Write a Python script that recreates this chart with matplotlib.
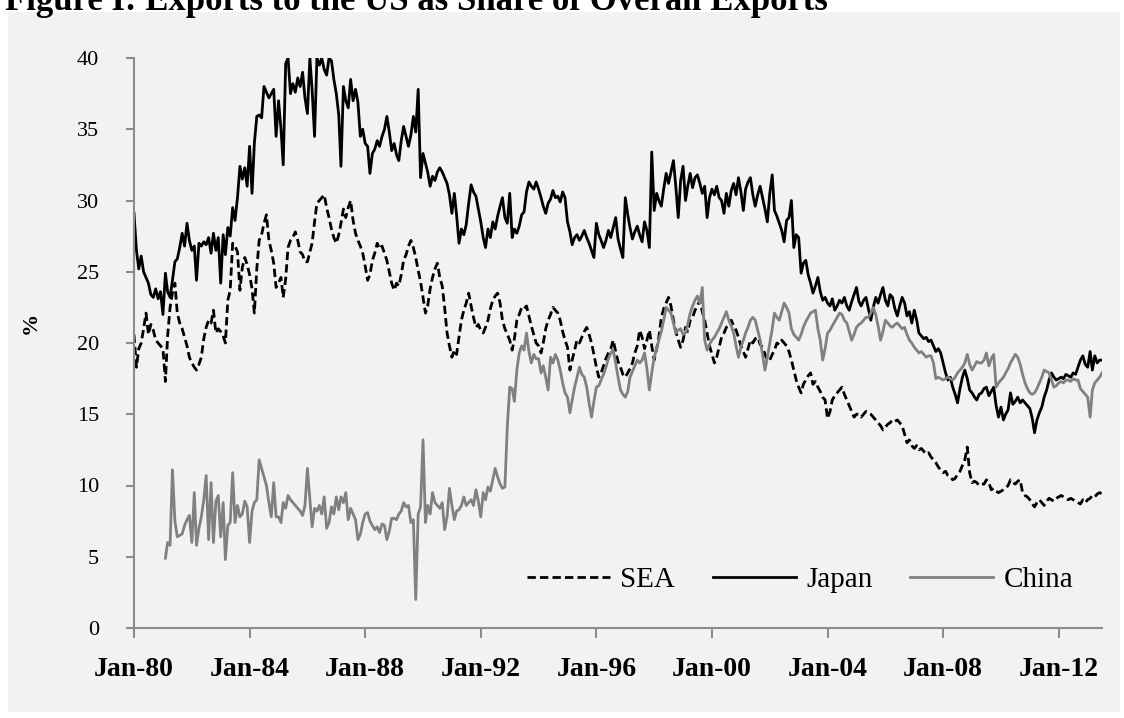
import numpy as np
import pandas as pd
import matplotlib
matplotlib.use("Agg")
import matplotlib.pyplot as plt
from matplotlib.patches import Rectangle

plt.rcParams['font.family'] = ['Liberation Serif', 'DejaVu Serif']

title = "Figure I: Exports to the US as Share of Overall Exports"

# monthly shares (%), Jan-1980 .. Jul-2013
japan = [
    29.1, 26.5, 25.2, 26.1, 25.0, 24.6, 24.2, 23.4, 23.2, 23.8, 23.1, 23.6,  # 1980
    22.0, 24.9, 23.6, 23.2, 24.4, 25.7, 25.9, 26.7, 27.7, 26.8, 28.4, 27.2,  # 1981
    26.5, 26.8, 24.4, 27.0, 26.8, 27.1, 26.9, 27.4, 26.3, 27.7, 26.5, 27.4,  # 1982
    24.2, 27.6, 26.2, 28.1, 27.5, 29.5, 28.6, 30.2, 32.4, 31.5, 32.3, 31.0,  # 1983
    33.8, 30.5, 34.0, 35.9, 36.0, 35.8, 38.0, 37.6, 37.2, 37.5, 37.8, 34.5,  # 1984
    37.0, 35.0, 32.5, 39.6, 40.0, 37.5, 38.2, 37.6, 38.6, 38.0, 39.0, 37.2,  # 1985
    36.1, 40.0, 37.8, 34.5, 40.0, 39.5, 40.0, 39.2, 38.8, 40.0, 39.8, 38.5,  # 1986
    37.5, 36.0, 32.4, 38.0, 37.0, 36.5, 38.5, 37.0, 37.8, 36.9, 34.5, 35.0,  # 1987
    34.0, 33.8, 31.9, 33.3, 33.6, 34.2, 33.8, 34.5, 35.0, 35.9, 34.8, 33.5,  # 1988
    34.0, 33.2, 32.8, 34.2, 35.2, 34.5, 33.8, 34.6, 35.9, 34.8, 37.8, 31.6,  # 1989
    33.3, 32.6, 32.0, 31.0, 31.7, 31.4, 32.0, 32.3, 32.0, 31.6, 31.2, 30.4,  # 1990
    29.1, 30.5, 29.0, 27.0, 28.0, 27.6, 28.3, 29.8, 31.1, 30.6, 30.3, 29.4,  # 1991
    28.5, 27.4, 26.7, 28.0, 27.4, 28.5, 28.0, 28.9, 29.6, 30.2, 28.8, 28.4,  # 1992
    30.5, 27.4, 28.0, 27.7, 28.2, 29.0, 29.2, 30.6, 31.3, 31.0, 30.8, 31.3,  # 1993
    30.8, 30.2, 29.6, 29.1, 29.8, 30.1, 30.7, 30.2, 30.3, 29.9, 30.6, 30.2,  # 1994
    28.5, 27.8, 26.9, 27.4, 27.6, 27.2, 27.5, 27.9, 27.4, 27.0, 26.5, 26.0,  # 1995
    28.4, 27.6, 27.2, 26.7, 27.2, 27.9, 27.4, 28.1, 28.8, 27.3, 26.6, 26.0,  # 1996
    30.2, 29.0, 28.1, 27.3, 27.8, 28.2, 27.6, 27.1, 28.5, 27.9, 26.7, 33.4,  # 1997
    29.3, 30.5, 30.0, 29.6, 30.8, 31.9, 31.2, 32.0, 32.8, 31.0, 28.8, 31.4,  # 1998
    32.4, 30.0, 31.0, 31.9, 30.9, 31.6, 31.8, 31.2, 30.5, 31.0, 28.8, 30.2,  # 1999
    30.8, 30.4, 31.0, 30.2, 30.0, 29.1, 30.5, 29.6, 30.7, 31.2, 30.4, 31.6,  # 2000
    30.6, 29.3, 30.8, 31.3, 31.6, 30.4, 29.6, 30.4, 31.0, 30.2, 29.4, 28.5,  # 2001
    30.5, 31.8, 29.3, 28.9, 28.4, 27.9, 27.1, 28.6, 28.8, 30.0, 26.7, 27.6,  # 2002
    27.4, 24.9, 25.6, 25.8, 24.8, 24.2, 23.5, 24.0, 24.6, 23.6, 23.0, 23.2,  # 2003
    22.8, 22.6, 23.1, 22.3, 22.6, 23.0, 22.8, 23.2, 22.6, 22.3, 22.9, 23.4,  # 2004
    23.9, 22.9, 22.6, 23.0, 23.2, 22.4, 21.6, 22.5, 23.2, 22.8, 23.4, 23.9,  # 2005
    23.0, 22.6, 23.4, 23.2, 22.4, 21.9, 22.6, 23.2, 22.8, 21.9, 22.2, 21.4,  # 2006
    22.3, 21.6, 20.7, 20.5, 20.3, 20.4, 20.1, 20.2, 19.8, 19.4, 19.6, 19.3,  # 2007
    18.6, 17.9, 17.4, 17.6, 16.9, 16.4, 15.8, 16.8, 17.6, 18.1, 17.5, 16.7,  # 2008
    16.5, 16.2, 16.0, 16.4, 16.5, 16.8, 16.9, 16.3, 16.6, 16.9, 15.6, 14.8,  # 2009
    15.5, 14.6, 15.0, 15.3, 16.5, 15.7, 15.9, 16.2, 15.8, 16.0, 15.8, 15.6,  # 2010
    15.4, 14.7, 13.7, 14.6, 15.1, 15.5, 16.2, 16.7, 17.4, 17.9, 17.6, 17.4,  # 2011
    17.5, 17.6, 17.5, 17.8, 17.7, 17.6, 17.9, 17.8, 18.3, 18.8, 19.1, 18.5,  # 2012
    18.3, 19.4, 18.1, 19.1, 18.6, 18.8, 18.8,                                # 2013
]

sea = [
    20.6, 18.3, 19.6, 20.0, 21.0, 22.1, 20.6, 21.3, 20.9, 20.2, 20.0, 19.8,  # 1980
    19.6, 17.3, 20.5, 22.5, 23.5, 24.2, 22.1, 21.4, 21.0, 20.4, 19.8, 19.0,  # 1981
    18.6, 18.3, 18.1, 18.5, 19.0, 20.3, 21.1, 21.6, 21.4, 22.3, 20.7, 21.0,  # 1982
    20.8, 20.5, 20.0, 23.0, 23.7, 27.0, 26.8, 26.4, 23.7, 25.3, 26.0, 25.5,  # 1983
    24.8, 23.8, 22.1, 25.2, 27.2, 27.6, 28.4, 29.0, 27.2, 26.5, 25.6, 23.9,  # 1984
    24.2, 24.6, 23.2, 24.5, 26.7, 27.2, 27.4, 27.8, 27.2, 26.4, 26.2, 25.7,  # 1985
    25.7, 26.4, 27.0, 28.5, 29.8, 30.0, 30.2, 30.4, 29.5, 28.8, 28.0, 27.4,  # 1986
    27.0, 27.6, 28.4, 29.4, 28.8, 29.5, 30.0, 28.6, 27.7, 27.2, 26.8, 26.3,  # 1987
    25.4, 24.4, 24.8, 25.8, 26.3, 27.0, 26.6, 26.8, 26.3, 25.8, 25.0, 24.2,  # 1988
    23.7, 24.2, 24.0, 24.8, 25.8, 26.2, 26.8, 27.2, 26.7, 26.0, 25.1, 24.3,  # 1989
    23.2, 22.1, 22.6, 23.8, 24.6, 25.2, 25.6, 24.6, 24.0, 22.5, 20.7, 19.8,  # 1990
    19.0, 19.5, 19.2, 20.4, 21.6, 22.3, 22.8, 23.5, 22.6, 21.8, 21.1, 21.3,  # 1991
    20.9, 20.7, 21.1, 21.6, 22.4, 23.0, 23.3, 23.5, 22.8, 21.6, 21.0, 20.6,  # 1992
    20.2, 19.5, 20.3, 21.6, 22.0, 22.5, 22.4, 22.6, 21.9, 21.2, 20.6, 20.0,  # 1993
    19.8, 19.3, 20.0, 21.0, 21.6, 22.0, 22.5, 22.3, 22.1, 21.6, 20.8, 20.2,  # 1994
    19.7, 18.1, 18.8, 19.5, 20.2, 20.0, 20.4, 20.8, 21.1, 20.6, 20.0, 19.2,  # 1995
    18.3, 17.6, 17.9, 18.4, 18.9, 19.3, 19.6, 20.2, 19.4, 18.7, 18.3, 17.8,  # 1996
    17.6, 17.9, 18.2, 18.6, 19.3, 19.8, 20.9, 20.4, 19.6, 20.2, 20.9, 19.8,  # 1997
    18.8, 19.6, 20.4, 21.8, 22.4, 22.8, 23.2, 22.6, 21.6, 20.8, 20.2, 19.7,  # 1998
    20.2, 21.1, 20.8, 21.6, 21.8, 22.3, 22.6, 23.0, 22.2, 21.6, 20.7, 19.8,  # 1999
    19.2, 18.6, 19.0, 19.7, 20.4, 20.7, 21.1, 21.3, 21.6, 21.2, 20.9, 20.4,  # 2000
    19.8, 19.4, 19.0, 19.6, 20.2, 20.0, 20.3, 20.4, 19.9, 19.7, 19.2, 18.8,  # 2001
    18.8, 19.2, 19.5, 20.0, 19.9, 20.2, 20.0, 19.8, 19.4, 18.8, 18.1, 17.4,  # 2002
    16.9, 16.5, 17.1, 17.4, 17.7, 17.9, 17.1, 17.3, 16.9, 16.6, 16.2, 16.0,  # 2003
    14.7, 15.2, 16.0, 16.3, 16.5, 16.7, 16.9, 16.4, 16.0, 15.6, 15.2, 14.8,  # 2004
    15.0, 15.0, 14.8, 15.0, 15.2, 15.1, 15.0, 14.8, 14.6, 14.4, 14.2, 13.9,  # 2005
    14.1, 14.3, 14.4, 14.6, 14.5, 14.6, 14.4, 14.2, 13.6, 13.0, 13.2, 12.8,  # 2006
    12.6, 12.8, 12.5, 12.6, 12.4, 12.2, 12.3, 12.0, 11.8, 11.6, 11.3, 11.1,  # 2007
    10.9, 11.0, 10.7, 10.6, 10.4, 10.5, 10.8, 11.0, 11.4, 11.8, 12.7, 10.9,  # 2008
    10.2, 10.3, 10.2, 10.0, 10.1, 10.1, 10.4, 10.2, 9.7, 9.8, 9.6, 9.5,      # 2009
    9.6, 9.7, 9.8, 10.0, 10.4, 10.2, 10.1, 10.3, 10.4, 9.5, 9.3, 9.2,        # 2010
    9.0, 8.7, 8.5, 8.8, 9.0, 8.8, 8.6, 8.9, 9.1, 9.0, 8.9, 9.1,              # 2011
    9.2, 9.3, 9.2, 9.1, 9.0, 9.1, 9.0, 8.9, 8.8, 8.7, 9.0, 8.8,              # 2012
    9.0, 9.1, 9.3, 9.2, 9.4, 9.5, 9.4,                                       # 2013
]

# China, Jan-1981 .. Jul-2013
china = [
    np.nan, 4.9, 6.0, 5.8, 11.1, 7.5, 6.4, 6.5, 6.6, 7.2, 7.6, 7.9,          # 1981
    6.0, 9.5, 5.8, 7.0, 7.8, 9.0, 10.7, 6.2, 10.2, 6.0, 8.9, 9.3,            # 1982
    6.4, 8.8, 4.8, 7.2, 7.4, 10.9, 7.4, 8.6, 7.8, 8.0, 8.9, 8.5,             # 1983
    6.0, 8.2, 8.8, 9.0, 11.8, 11.2, 10.6, 10.0, 8.8, 7.8, 10.2, 7.8,         # 1984
    7.8, 7.4, 8.8, 8.4, 9.3, 9.0, 8.8, 8.6, 8.4, 8.2, 7.9, 8.6,              # 1985
    11.2, 9.0, 7.1, 8.4, 8.2, 8.6, 8.0, 9.2, 7.0, 7.4, 8.5, 8.0,             # 1986
    9.2, 8.3, 9.2, 8.8, 9.5, 7.6, 8.4, 8.0, 7.6, 6.2, 6.6, 7.4,              # 1987
    8.0, 8.1, 7.5, 7.2, 6.9, 7.1, 6.7, 7.3, 7.2, 6.2, 6.8, 7.7,              # 1988
    7.7, 7.6, 8.0, 8.2, 8.8, 8.5, 8.6, 7.4, 7.6, 2.0, 8.0, 8.5,              # 1989
    13.2, 7.4, 8.6, 8.0, 9.5, 8.8, 8.6, 8.4, 8.8, 6.9, 7.8, 9.8,             # 1990
    8.6, 7.6, 8.2, 8.3, 8.6, 9.2, 8.6, 8.8, 9.0, 8.6, 9.7, 8.9,              # 1991
    7.8, 9.5, 9.0, 9.9, 9.6, 10.4, 11.2, 10.6, 10.1, 9.8, 9.9, 14.1,         # 1992
    16.9, 16.8, 15.9, 18.1, 19.3, 19.8, 19.5, 20.7, 19.4, 18.6, 19.2, 18.9,  # 1993
    18.9, 17.9, 18.4, 17.6, 16.7, 19.0, 18.6, 19.2, 18.8, 18.1, 17.2, 16.5,  # 1994
    16.2, 15.1, 16.0, 16.9, 17.6, 18.3, 17.8, 17.6, 16.9, 15.8, 14.8, 15.9,  # 1995
    16.9, 17.0, 17.4, 17.8, 18.3, 18.9, 19.3, 19.5, 18.6, 17.6, 16.7, 16.4,  # 1996
    16.2, 16.6, 17.6, 18.0, 18.4, 18.8, 18.6, 18.8, 19.3, 18.2, 16.7, 17.9,  # 1997
    19.0, 19.6, 20.2, 20.8, 21.6, 22.5, 22.3, 22.1, 21.4, 20.7, 20.9, 21.0,  # 1998
    20.6, 20.7, 21.3, 22.1, 22.6, 23.0, 23.3, 22.8, 23.9, 20.2, 19.5, 19.9,  # 1999
    20.2, 20.4, 20.7, 21.0, 21.4, 21.8, 22.2, 21.6, 21.2, 20.7, 19.8, 19.0,  # 2000
    19.7, 20.2, 20.7, 21.1, 21.6, 21.8, 21.6, 20.9, 20.2, 19.2, 18.1, 19.0,  # 2001
    20.0, 21.0, 22.1, 21.8, 21.6, 22.2, 22.8, 22.5, 22.1, 21.0, 20.6, 20.4,  # 2002
    20.2, 20.6, 21.1, 21.5, 21.8, 22.1, 22.2, 22.3, 21.0, 20.2, 18.8, 19.6,  # 2003
    20.7, 20.9, 21.2, 21.5, 21.8, 22.1, 22.0, 21.6, 21.4, 20.8, 20.2, 20.6,  # 2004
    21.1, 21.3, 21.4, 21.6, 21.8, 21.8, 22.1, 22.5, 22.0, 21.2, 20.2, 20.8,  # 2005
    21.6, 21.4, 21.2, 21.1, 21.3, 21.4, 21.2, 21.0, 21.1, 20.6, 20.2, 20.0,  # 2006
    19.7, 19.5, 19.3, 19.4, 19.2, 19.0, 19.1, 19.1, 18.6, 17.5, 17.6, 17.5,  # 2007
    17.4, 17.5, 17.6, 17.5, 17.4, 17.6, 17.9, 18.1, 18.3, 18.6, 19.2, 18.5,  # 2008
    18.1, 18.4, 18.7, 18.6, 18.6, 18.8, 19.3, 18.4, 18.9, 19.2, 16.9, 17.2,  # 2009
    17.4, 17.6, 17.9, 18.2, 18.6, 18.9, 19.2, 19.0, 18.5, 17.8, 17.2, 16.8,  # 2010
    16.5, 16.4, 16.5, 16.8, 17.2, 17.6, 18.1, 18.0, 17.9, 17.4, 16.9, 17.0,  # 2011
    17.2, 17.3, 17.2, 17.4, 17.4, 17.3, 17.5, 17.4, 17.4, 16.8, 16.6, 16.4,  # 2012
    16.2, 14.8, 16.7, 17.2, 17.4, 17.6, 17.9,                                # 2013
]

dates = pd.date_range("1980-01-01", periods=len(japan), freq="MS")
dates_china = pd.date_range("1981-01-01", periods=len(china), freq="MS")
tick_dates = pd.date_range("1980-01-01", "2012-01-01", freq="48MS")

W, H = 1124, 718
fig = plt.figure(figsize=(W / 100, H / 100), dpi=100)
fig.patch.set_facecolor("white")
# light grey chart area behind the axes
fig.patches.append(Rectangle((8 / W, 1 - 712 / H), 1112 / W, 700 / H,
                             transform=fig.transFigure, facecolor="#f2f2f2",
                             edgecolor="none", zorder=-10))

ax = fig.add_axes([134 / W, 1 - 628 / H, 968 / W, 570 / H])
ax.patch.set_alpha(0)

ax.plot(dates, sea, color="black", lw=2.0, ls=(0, (3, 1.5)), label="SEA")
ax.plot(dates, japan, color="black", lw=2.0, label="Japan")
ax.plot(dates_china, china, color="#808080", lw=2.0, label="China")

ax.set_ylim(0, 40)
ax.set_yticks(range(0, 41, 5))
ax.set_xlim(pd.Timestamp("1980-01-01"), pd.Timestamp("2013-07-01"))
ax.set_xticks(tick_dates)
ax.set_xticklabels([d.strftime("%b-%y") for d in tick_dates], fontweight="bold")

for s in ["top", "right"]:
    ax.spines[s].set_visible(False)
for s in ["left", "bottom"]:
    ax.spines[s].set_color("#8c8c8c")
    ax.spines[s].set_linewidth(1.5)

ax.tick_params(axis="y", direction="out", length=6, width=1.5, color="#8c8c8c",
               pad=19, labelsize=16)
ax.tick_params(axis="x", direction="out", length=7, width=1.5, color="#8c8c8c",
               pad=14, labelsize=20)

ax.legend(ncol=3, frameon=False, loc="center", bbox_to_anchor=(0.688, 0.084),
          handlelength=2.85, handletextpad=0.35, columnspacing=1.3,
          prop={"size": 21})

fig.text(31 / W, 1 - 323 / H, "%", rotation=90, ha="center", va="center",
         fontsize=16, fontweight="bold")
fig.text(5 / W, 1 - 9.5 / H, title, ha="left", va="baseline",
         fontsize=25, fontweight="bold")

fig.savefig("out.png", dpi=100)
